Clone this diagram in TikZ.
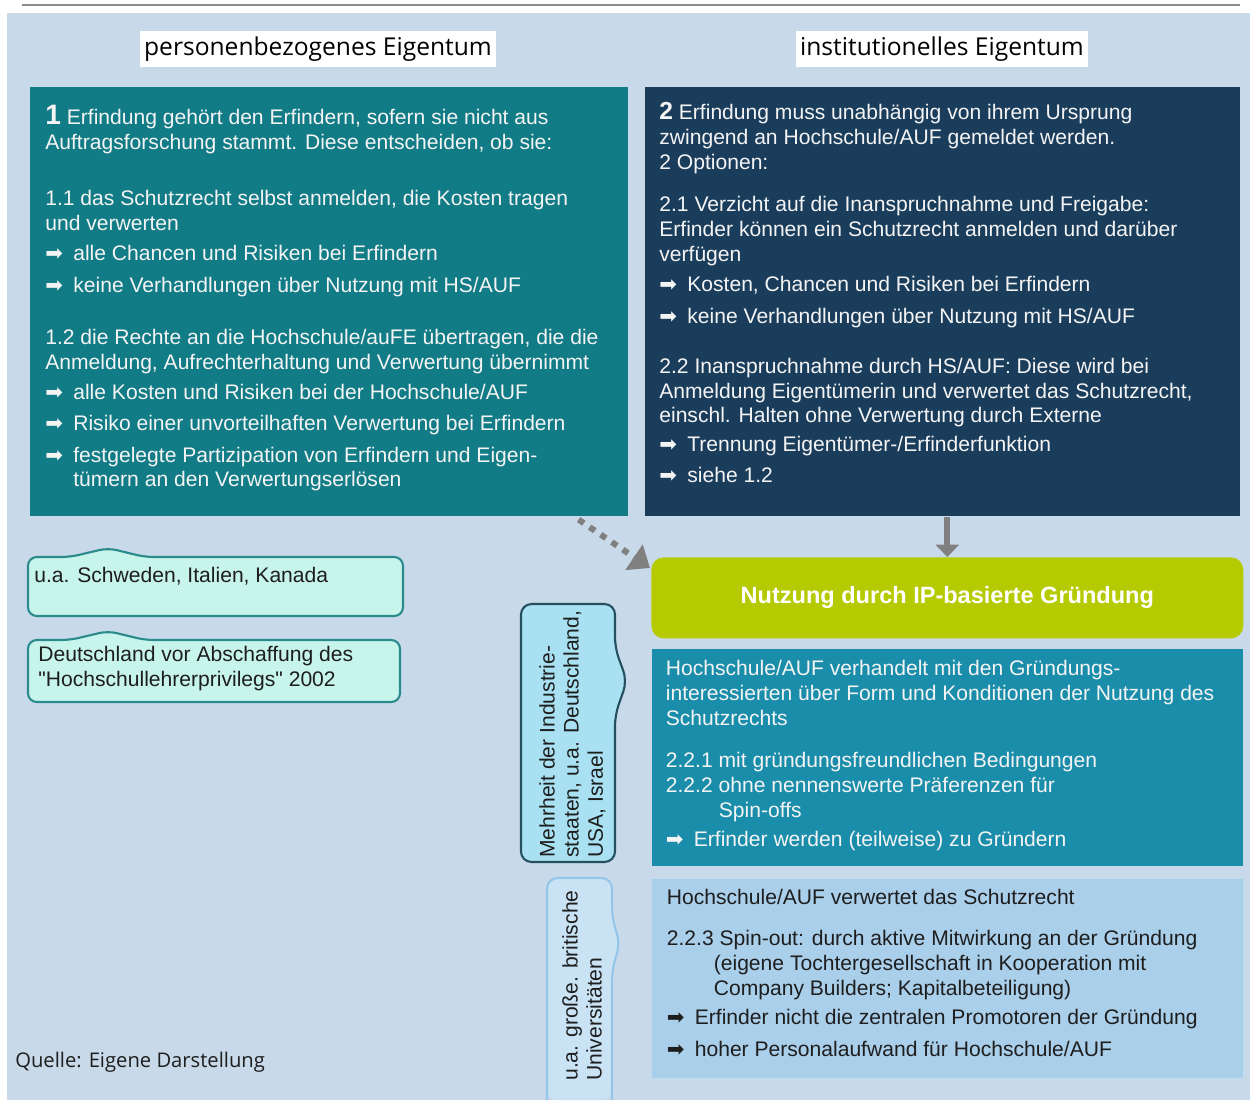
\documentclass[tikz,border=0pt]{standalone}
\usepackage{fontspec}
\setmainfont{Liberation Sans}
\newfontfamily\titlefont{Open Sans}
\newfontfamily\symfont{DejaVu Sans}
\usepackage{xcolor}
\definecolor{Pale Sky}{HTML}{C8D9E9}
\definecolor{Deep Teal}{HTML}{117B86}
\definecolor{Night Navy}{HTML}{1B3D5C}
\definecolor{Lime}{HTML}{B5CA00}
\definecolor{Petrol}{HTML}{1A8DAB}
\definecolor{Sky}{HTML}{AACFEA}
\colorlet{cBack}{Pale Sky}
\colorlet{cTeal}{Deep Teal}
\colorlet{cNavy}{Night Navy}
\colorlet{cGreen}{Lime}
\colorlet{cPetrol}{Petrol}
\colorlet{cSky}{Sky}
\definecolor{cSkyLine}{HTML}{C0DDF0}
\definecolor{cMint}{HTML}{C7F5EC}
\definecolor{cMintLine}{HTML}{2B8A8C}
\definecolor{cIce}{HTML}{A9E1F2}
\definecolor{cIceLine}{HTML}{24505F}
\definecolor{cPale}{HTML}{C9E3F5}
\definecolor{cPaleLine}{HTML}{95C6EA}
\definecolor{cArrow}{HTML}{808080}
\definecolor{cRule}{HTML}{8C8C8C}
\definecolor{cInk}{HTML}{F4F4F4}
\definecolor{cDark}{HTML}{1E1E1E}
\usepackage{tikz}
\usetikzlibrary{calc, positioning, arrows.meta}
\newlength\arrw
\setlength\arrw{0.56cm}
\newcommand\arr{\makebox[\arrw][l]{\symfont\fontsize{12}{12}\selectfont ➡}}
\tikzset{
	x = 0.02cm,
	y = -0.02cm,
	node distance = 1.5em,
	font = \fontsize{12}{14.2}\selectfont,
	panel/.style={
		rectangle,
		inner sep=0pt,
		anchor=north west
	},
	body/.style={
		anchor=north west,
		inner sep=0pt,
		align=left,
		text=cInk
	},
	title/.style={
		fill=white,
		inner xsep=2.5pt,
		minimum height=0.66cm,
		font=\titlefont\fontsize{14}{16}\selectfont
	},
	callh/.style={
		fill=cMint,
		draw=cMintLine,
		line width=1.2pt,
		rounded corners=5pt
	},
	calltext/.style={
		inner sep=0pt,
		align=left,
		text=cDark
	},
	vtext/.style={
		rotate=90,
		anchor=north west,
		inner sep=0pt,
		align=left,
		text=cDark,
		font=\fontsize{12}{13.7}\selectfont
	},
	dotarrow/.style={
		cArrow,
		line width=3.4pt,
		dash pattern=on 3.6pt off 4pt,
		arrows={-Triangle[length=11pt, width=17pt]}
	},
	solidarrow/.style={
		cArrow,
		line width=3.6pt,
		arrows={-Triangle[length=7pt, width=13pt]}
	}
}

\begin{document}
\begin{tikzpicture}
        \useasboundingbox (0,0) rectangle (1250,1100);
        \fill[cBack] (7,13) rectangle (1250,1100);
        \draw[cRule, line width=1.2pt] (22,5) -- (1240,5);

        \node[title] (tp) at (318,49) {personenbezogenes Eigentum};
        \node[title] (ti) at (942,49) {institutionelles Eigentum};

        \node[panel, fill=cTeal, minimum width=11.96cm, minimum height=8.58cm] (b1) at (30,87) {};
        \node[panel, fill=cNavy, minimum width=11.9cm, minimum height=8.58cm] (b2) at (645,87) {};
        \node[panel, fill=cGreen, rounded corners=7pt, minimum width=11.84cm, minimum height=1.62cm,
            text=white, font=\bfseries\fontsize{13.4}{16}\selectfont] (ng) at (651,557) {Nutzung durch IP-basierte Gründung};
        \node[panel, fill=cPetrol, minimum width=11.82cm, minimum height=4.34cm, below=0.2cm of ng] (b22) {};
        \node[panel, fill=cSky, draw=cSkyLine, minimum width=11.86cm, minimum height=4cm, below=0.24cm of b22] (bb) {};

        \node[body] (t1) at ($(b1.north west)+(15,18)$) {{\bfseries\fontsize{16}{16}\selectfont 1} Erfindung gehört den Erfindern, sofern sie nicht aus\\
            Auftragsforschung stammt. Diese entscheiden, ob sie:\\[17.6pt]
            1.1 das Schutzrecht selbst anmelden, die Kosten tragen\\
            und verwerten\\[2.8pt]
            \arr alle Chancen und Risiken bei Erfindern\\[4pt]
            \arr keine Verhandlungen über Nutzung mit HS/AUF\\[15.4pt]
            1.2 die Rechte an die Hochschule/auFE übertragen, die die\\
            Anmeldung, Aufrechterhaltung und Verwertung übernimmt\\[2.8pt]
            \arr alle Kosten und Risiken bei der Hochschule/AUF\\[3.4pt]
            \arr Risiko einer unvorteilhaften Verwertung bei Erfindern\\[4pt]
            \arr festgelegte Partizipation von Erfindern und Eigen-\\
            \hspace*{\arrw}tümern an den Verwertungserlösen};
        \node[body] (t2) at ($(b2.north west)+(14,15)$) {{\bfseries\fontsize{14}{14}\selectfont 2} Erfindung muss unabhängig von ihrem Ursprung\\
            zwingend an Hochschule/AUF gemeldet werden.\\
            2 Optionen:\\[9.7pt]
            2.1 Verzicht auf die Inanspruchnahme und Freigabe:\\
            Erfinder können ein Schutzrecht anmelden und darüber\\
            verfügen\\[2.8pt]
            \arr Kosten, Chancen und Risiken bei Erfindern\\[4pt]
            \arr keine Verhandlungen über Nutzung mit HS/AUF\\[14.2pt]
            2.2 Inanspruchnahme durch HS/AUF: Diese wird bei\\
            Anmeldung Eigentümerin und verwertet das Schutzrecht,\\
            einschl. Halten ohne Verwertung durch Externe\\[2.3pt]
            \arr Trennung Eigentümer-/Erfinderfunktion\\[3.4pt]
            \arr siehe 1.2};
        \node[body] (t22) at ($(b22.north west)+(14,11)$) {Hochschule/AUF verhandelt mit den Gründungs-\\
            interessierten über Form und Konditionen der Nutzung des\\
            Schutzrechts\\[9.7pt]
            2.2.1 mit gründungsfreundlichen Bedingungen\\
            2.2.2 ohne nennenswerte Präferenzen für\\
            \hspace*{1.06cm}Spin-offs\\[2.8pt]
            \arr Erfinder werden (teilweise) zu Gründern};
        \node[body, text=cDark] (tb) at ($(bb.north west)+(16,11)$) {Hochschule/AUF verwertet das Schutzrecht\\[9.1pt]
            2.2.3 Spin-out: durch aktive Mitwirkung an der Gründung\\
            \hspace*{0.94cm}(eigene Tochtergesellschaft in Kooperation mit\\
            \hspace*{0.94cm}Company Builders; Kapitalbeteiligung)\\[2.3pt]
            \arr Erfinder nicht die zentralen Promotoren der Gründung\\[4pt]
            \arr hoher Personalaufwand für Hochschule/AUF};

        \draw[dotarrow] ($(b1.south east)+(-50,3)$) -- ($(ng.north west)+(-1,11)$);
        \draw[solidarrow] (ng.north |- b2.south) -- (ng.north);

        \draw[callh] (28,586) -- (28,557) -- (70,557) -- (108,548) -- (145,557) -- (403,557) -- (403,616) -- (28,616) -- cycle;
        \draw[callh] (28,671) -- (28,640) -- (70,640) -- (108,631) -- (145,640) -- (400,640) -- (400,702) -- (28,702) -- cycle;
        \node[calltext, anchor=west] (c1) at (34,576) {u.a. Schweden, Italien, Kanada};
        \node[calltext, anchor=west] (c2) at (38,669) {Deutschland vor Abschaffung des\\\textquotedbl Hochschullehrerprivilegs\textquotedbl{} 2002};

        \draw[fill=cIce, draw=cIceLine, line width=1.2pt, rounded corners=6pt] (521,733) -- (521,604) -- (615,604) -- (615,648)
            -- (627,681) -- (615,715) -- (615,862) -- (521,862) -- cycle;
        \fill[cPale, rounded corners=6pt] (547,1100) -- (547,878) -- (612,878) -- (612,918) -- (620,943) -- (612,970) -- (612,1100) -- cycle;
        \draw[cPaleLine, line width=1.2pt, rounded corners=6pt] (547,1100) -- (547,878) -- (612,878) -- (612,918) -- (620,943) -- (612,970) -- (612,1100);
        \node[vtext] (v1) at (539,858) {Mehrheit der Industrie-\\staaten, u.a. Deutschland,\\USA, Israel};
        \node[vtext] (v2) at (562,1081) {u.a. große. britische\\Universitäten};

        \node[anchor=west, inner sep=0pt, text=cDark, font=\titlefont\fontsize{11.5}{14}\selectfont] (src) at (15,1062) {Quelle: Eigene Darstellung};
    \end{tikzpicture}
\end{document}
